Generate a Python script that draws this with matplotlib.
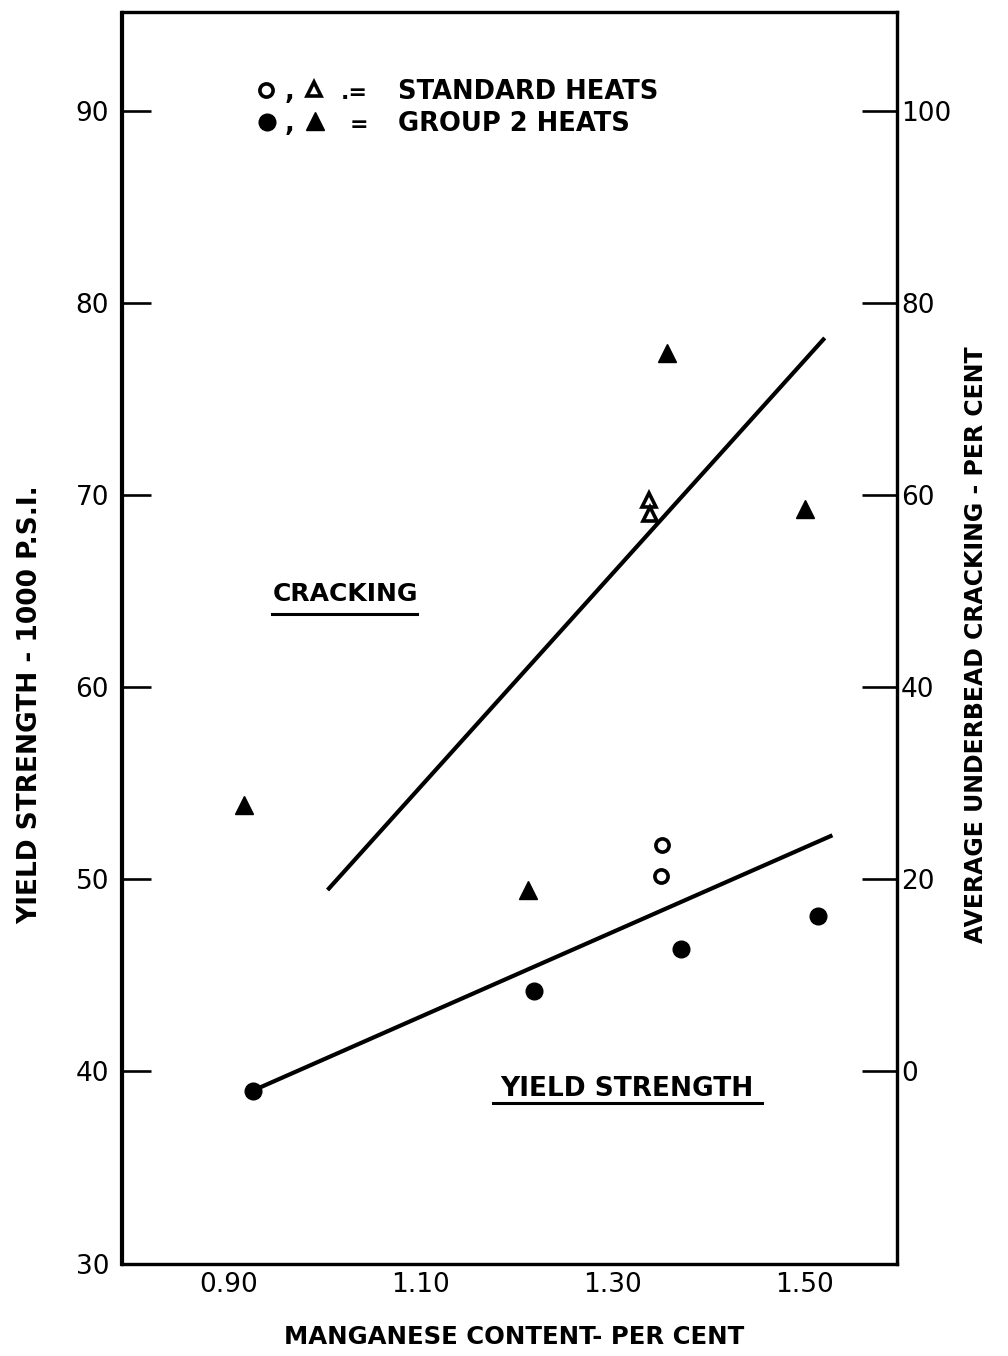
import matplotlib
matplotlib.use("Agg")
import matplotlib.pyplot as plt
from matplotlib.lines import Line2D

plt.rcParams['font.family'] = ['DejaVu Sans']

# ---------------- data ----------------
# cracking, per cent (right axis)
crack_g2_mn = [0.916, 1.212, 1.357, 1.500]
crack_g2_pct = [27.8, 18.9, 74.8, 58.6]
crack_std_mn = [1.338, 1.339]
crack_std_pct = [59.5, 58.1]
crack_fit_mn = [1.003, 1.521]
crack_fit_pct = [18.9, 76.4]

# yield strength, 1000 psi (left axis)
ys_std_mn = [1.351, 1.350]
ys_std_ksi = [51.8, 50.2]
ys_g2_mn = [0.925, 1.218, 1.371, 1.514]
ys_g2_ksi = [39.0, 44.2, 46.4, 48.1]
ys_fit_mn = [0.925, 1.529]
ys_fit_ksi = [39.0, 52.3]

x_ticks = [0.90, 1.10, 1.30, 1.50]
x_ticklabels = ["0.90", "1.10", "1.30", "1.50"]
left_ticks = [30, 40, 50, 60, 70, 80, 90]
right_ticks = [0, 20, 40, 60, 80, 100]

# ---------------- figure ----------------
W, H = 1008, 1356
fig = plt.figure(figsize=(W / 100, H / 100), dpi=100)
fig.patch.set_facecolor('white')
L, R, T, B = 121.5, 897.0, 11.5, 1263.5
ax = fig.add_axes([L / W, (H - B) / H, (R - L) / W, (B - T) / H])
ax2 = ax.twinx()

ax.set_xlim(0.7883, 1.5963)
ax.set_ylim(30.0, 95.2)
ax2.set_ylim(2 * 30.0 - 80, 2 * 95.2 - 80)

for a in (ax, ax2):
    for s in a.spines.values():
        s.set_linewidth(2.3)
        s.set_color('black')

# ticks
ax.set_xticks(x_ticks)
ax.set_xticklabels(x_ticklabels)
ax.tick_params(axis='x', length=0, pad=6, labelsize=19)
ax.set_yticks(left_ticks)
ax.set_yticklabels([str(v) for v in left_ticks])
ax.tick_params(axis='y', direction='in', length=21, width=1.9, pad=9, labelsize=19)
ax2.set_yticks(right_ticks)
ax2.set_yticklabels([str(v) for v in right_ticks])
ax2.tick_params(axis='y', direction='in', length=25, width=1.9, pad=3, labelsize=19)

# fitted lines
ax.plot(ys_fit_mn, ys_fit_ksi, color='black', lw=3.0, solid_capstyle='butt', zorder=2)
ax2.plot(crack_fit_mn, crack_fit_pct, color='black', lw=3.0, solid_capstyle='butt', zorder=2)

# points
ax.plot(ys_g2_mn, ys_g2_ksi, linestyle='none', marker='o', ms=12,
        mfc='black', mec='black', zorder=3)
ax.plot(ys_std_mn, ys_std_ksi, linestyle='none', marker='o', ms=9.5, mew=2.6,
        mfc='white', mec='black', zorder=3)
ax2.plot(crack_g2_mn, crack_g2_pct, linestyle='none', marker='^', ms=13.5, mew=1,
         mfc='black', mec='black', zorder=3)
ax2.plot(crack_std_mn, crack_std_pct, linestyle='none', marker='^', ms=10.5, mew=2.6,
         mfc='none', mec='black', zorder=3)

# axis labels
ax.set_xlabel("MANGANESE CONTENT- PER CENT", fontsize=17.6, fontweight='bold')
ax.xaxis.label.set_va('center')
ax.xaxis.set_label_coords(0.506, -0.059)
ax.set_ylabel("YIELD STRENGTH - 1000 P.S.I.", fontsize=19, fontweight='bold')
ax.yaxis.label.set_va('center')
ax.yaxis.set_label_coords(-0.118, 0.446)
ax2.set_ylabel("AVERAGE UNDERBEAD CRACKING - PER CENT", fontsize=17, fontweight='bold')
ax2.yaxis.label.set_va('center')
ax2.yaxis.set_label_coords(1.102, 0.494)


def axx(px):
    return (px - L) / (R - L)


def axy(py):
    return (B - py) / (B - T)


# legend (hand-placed, as in the original drawing)
tr = ax2.transAxes
ax2.plot([axx(266)], [axy(90)], transform=tr, marker='o', ms=9.5, mew=2.6,
         mfc='white', mec='black', clip_on=False, linestyle='none')
ax2.plot([axx(314)], [axy(89)], transform=tr, marker='^', ms=10.5, mew=2.6,
         mfc='none', mec='black', clip_on=False, linestyle='none')
ax2.plot([axx(267)], [axy(122)], transform=tr, marker='o', ms=12,
         mfc='black', mec='black', clip_on=False, linestyle='none')
ax2.plot([axx(315)], [axy(121)], transform=tr, marker='^', ms=13.5, mew=1,
         mfc='black', mec='black', clip_on=False, linestyle='none')
for yy in (99, 131):
    ax2.text(axx(290), axy(yy), ",", transform=tr, fontsize=18.5, fontweight='bold',
             ha='center', va='baseline')
ax2.text(axx(368), axy(99), ".=", transform=tr, fontsize=16, fontweight='bold',
         ha='right', va='baseline')
ax2.text(axx(368), axy(131), "=", transform=tr, fontsize=16, fontweight='bold',
         ha='right', va='baseline')
ax2.text(axx(398), axy(99), "STANDARD HEATS", transform=tr, fontsize=18.5,
         fontweight='bold', ha='left', va='baseline')
ax2.text(axx(398), axy(131), "GROUP 2 HEATS", transform=tr, fontsize=18.5,
         fontweight='bold', ha='left', va='baseline')

# curve labels with underlines
ax2.text(axx(345), axy(601), "CRACKING", transform=tr, fontsize=18,
         fontweight='bold', ha='center', va='baseline')
ax2.add_line(Line2D([axx(272), axx(417)], [axy(614), axy(614)], transform=tr,
                    color='black', lw=2.2))
ax2.text(axx(627), axy(1096), "YIELD STRENGTH", transform=tr, fontsize=19,
         fontweight='bold', ha='center', va='baseline')
ax2.add_line(Line2D([axx(493), axx(762)], [axy(1103), axy(1103)], transform=tr,
                    color='black', lw=2.2))

fig.savefig("out.png", dpi=100, facecolor='white')
